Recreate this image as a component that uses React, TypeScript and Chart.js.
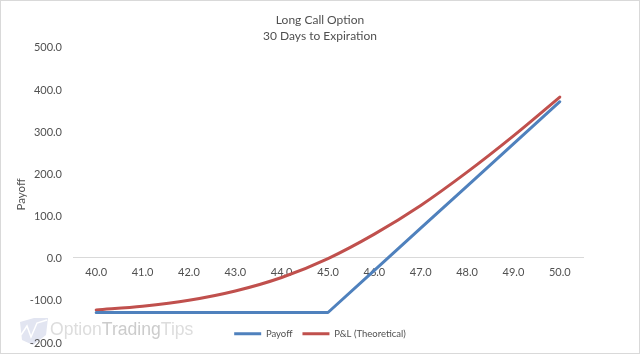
import React, { useEffect, useRef } from "react";
import { Chart, registerables } from "chart.js";

Chart.register(...registerables);

const strikes = ["40.0", "41.0", "42.0", "43.0", "44.0", "45.0", "46.0", "47.0", "48.0", "49.0", "50.0"];
const payoff = [-130, -130, -130, -130, -130, -130, -30, 70, 170, 270, 370];
const theoretical = [-124, -115, -101, -79, -47, -2, 56, 124, 203, 289, 381];
const titleLines = ["Long Call Option", "30 Days to Expiration"];
const FONT = "Lato, Carlito, sans-serif";
const TEXT = "#505050";

const framePlugin = {
  id: "frame",
  beforeUpdate(chart: any) {
    const legend = chart.legend;
    if (legend && !legend.__patched) {
      const fit = legend.fit;
      legend.fit = function () { fit.call(this); this.height = 0; };
      legend.__patched = true;
    }
  },
  afterLayout(chart: any) {
    if (chart.legend) {
      chart.legend.top = 319;
      chart.legend.left = 0;
      chart.legend.right = 640;
    }
    if (chart.titleBlock) {
      chart.titleBlock.left = 0;
      chart.titleBlock.right = 640;
    }
  },
  beforeDraw(chart: any) {
    const { ctx, width, height } = chart;
    ctx.save();
    ctx.fillStyle = "#ffffff";
    ctx.fillRect(0, 0, width, height);
    ctx.strokeStyle = "#d9d9d9";
    ctx.lineWidth = 1;
    ctx.strokeRect(0.5, 0.5, width - 1, height - 1);
    // watermark logo
    ctx.fillStyle = "#e2e5f1";
    ctx.beginPath();
    ctx.moveTo(20, 322); ctx.lineTo(34, 318); ctx.lineTo(48, 318); ctx.lineTo(46, 335); ctx.lineTo(33, 345); ctx.lineTo(22, 340);
    ctx.closePath();
    ctx.fill();
    ctx.strokeStyle = "#ffffff";
    ctx.lineWidth = 1.5;
    ctx.beginPath();
    ctx.moveTo(21, 335); ctx.lineTo(27, 326); ctx.lineTo(31, 337); ctx.lineTo(37, 323); ctx.lineTo(47, 320);
    ctx.stroke();
    // watermark text
    ctx.textBaseline = "alphabetic";
    ctx.textAlign = "left";
    ctx.font = "17.6px 'Liberation Sans', sans-serif";
    ctx.fillStyle = "#dddddd";
    ctx.fillText("Option", 50, 335);
    const w1 = ctx.measureText("Option").width;
    ctx.fillStyle = "#cccccc";
    ctx.fillText("Trading", 50 + w1, 335);
    const w2 = ctx.measureText("Trading").width;
    ctx.fillStyle = "#dddddd";
    ctx.fillText("Tips", 50 + w1 + w2, 335);
    ctx.restore();
  },
};

export default function App() {
  const ref = useRef<HTMLCanvasElement>(null);
  useEffect(() => {
    document.body.style.margin = "0";
    const chart = new Chart(ref.current!, {
      type: "line",
      data: {
        labels: strikes,
        datasets: [
          { label: "Payoff", data: payoff, borderColor: "#4f81bd", backgroundColor: "#4f81bd", borderWidth: 3, pointRadius: 0, tension: 0, borderCapStyle: "round", borderJoinStyle: "round" },
          { label: "P&L (Theoretical)", data: theoretical, borderColor: "#c0504d", backgroundColor: "#c0504d", borderWidth: 3, pointRadius: 0, cubicInterpolationMode: "monotone", borderCapStyle: "round" },
        ],
      },
      options: {
        responsive: false,
        animation: false,
        layout: { padding: { left: 0, right: 57, top: 0, bottom: 12 } },
        plugins: {
          title: { display: true, text: titleLines, color: TEXT, font: { family: FONT, size: 12, weight: "normal", lineHeight: 1.33 }, padding: { top: 12, bottom: 3 } },
          legend: {
            display: true,
            position: "bottom",
            labels: { color: TEXT, font: { family: FONT, size: 9.5 }, usePointStyle: true, pointStyle: "line", pointStyleWidth: 27, boxHeight: 3, padding: 10 },
          },
          tooltip: { enabled: false },
        },
        scales: {
          x: {
            position: { y: 0 },
            offset: true,
            grid: { display: false },
            border: { display: true, color: "#d9d9d9" },
            ticks: { color: TEXT, font: { family: FONT, size: 11 }, padding: 0, maxRotation: 0, autoSkip: false },
          },
          y: {
            min: -200,
            max: 500,
            grid: { display: false },
            border: { display: false },
            afterFit(scale: any) { scale.width = 73; },
            ticks: { stepSize: 100, color: TEXT, font: { family: FONT, size: 11 }, padding: 3, labelOffset: 1, callback: (v: any) => Number(v).toFixed(1) },
            title: { display: true, text: "Payoff", color: TEXT, font: { family: FONT, size: 11.5 }, padding: { top: 14, bottom: 0 } },
          },
        },
      } as any,
      plugins: [framePlugin] as any,
    });
    return () => chart.destroy();
  }, []);
  return <canvas ref={ref} width={640} height={354} style={{ display: "block" }} />;
}
